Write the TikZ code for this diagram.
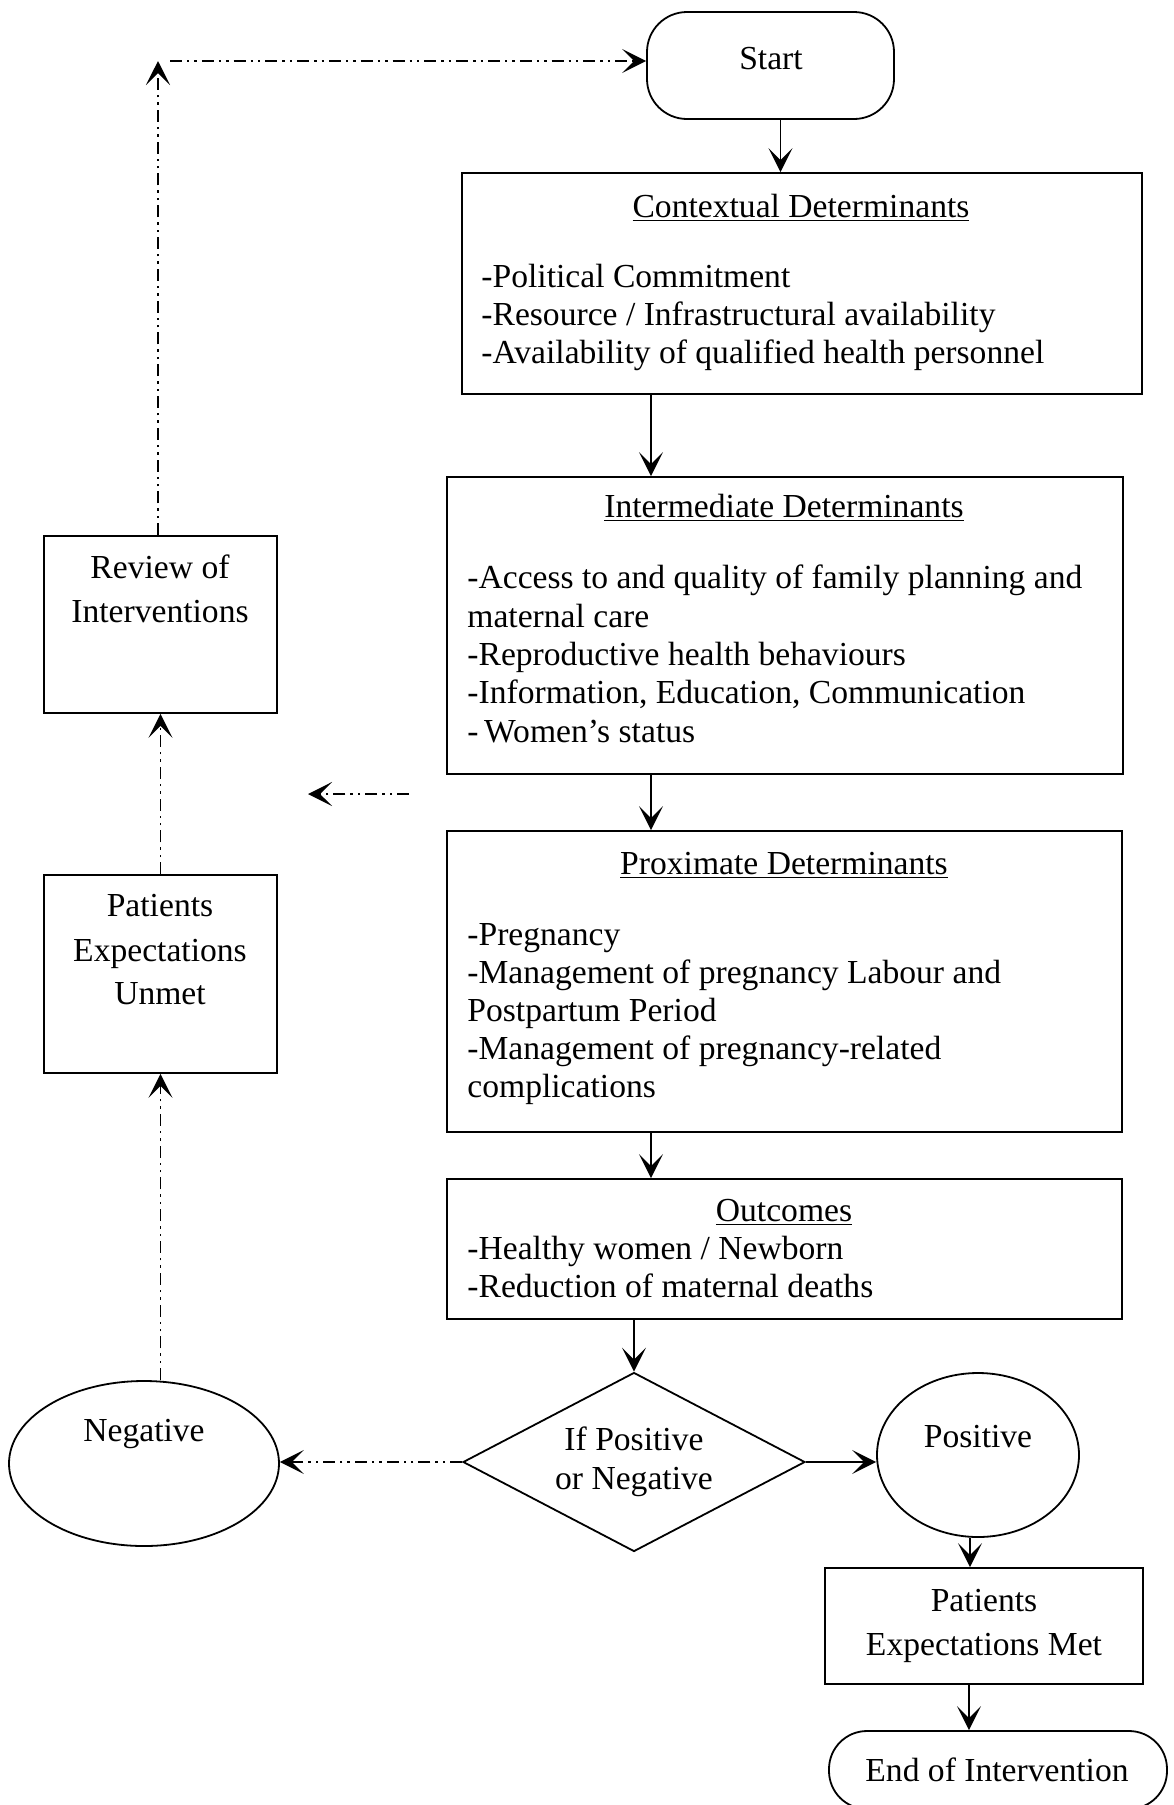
\documentclass[tikz,border=0pt]{standalone}
\usepackage{fontspec}
\setmainfont{Liberation Serif}
\usetikzlibrary{arrows.meta,shapes.geometric}

\begin{document}
\begin{tikzpicture}[
  x=0.5pt, y=-0.5pt,
  every node/.style={font=\fontsize{16.8}{19}\selectfont},
  boxst/.style={draw, line width=0.9pt, rectangle, inner sep=0pt},
  roundst/.style={draw, line width=0.9pt, rectangle, rounded corners=20pt, inner sep=0pt},
  ellst/.style={draw, line width=0.9pt, ellipse, inner sep=0pt},
  diast/.style={draw, line width=0.9pt, diamond, inner sep=0pt},
  txt/.style={inner sep=0pt, anchor=mid, yshift=-3.5pt},
  ltxt/.style={inner sep=0pt, anchor=mid west, yshift=-3.5pt},
  arr/.style={line width=0.9pt, -{Stealth[length=12pt,width=12pt,inset=6pt]}},
  dda/.style={dash pattern=on 6pt off 2.5pt on 1.2pt off 2.5pt on 1.2pt off 2.5pt}
]
\useasboundingbox (0,0) rectangle (1173,1805);

% ---- main column ----
\node[roundst, minimum width=123.5pt, minimum height=53.5pt] (start) at (770.5,65.5) {};
\node[txt] (startT) at (771,58) {Start};

\node[boxst, minimum width=340pt, minimum height=110.5pt] (ctx) at (802,283.5) {};
\node[txt] (ctxT) at (801,206) {\underline{Contextual Determinants}};
\node[ltxt] (ctx1) at (481,276) {-Political Commitment};
\node[ltxt] (ctx2) at (481,314) {-Resource / Infrastructural availability};
\node[ltxt] (ctx3) at (481,352) {-Availability of qualified health personnel};

\node[boxst, minimum width=338pt, minimum height=148.5pt] (int) at (785,625.5) {};
\node[txt] (intT) at (784,506) {\underline{Intermediate Determinants}};
\node[ltxt] (int1) at (467,577) {-Access to and quality of family planning and};
\node[ltxt] (int2) at (467,616) {maternal care};
\node[ltxt] (int3) at (467,654) {-Reproductive health behaviours};
\node[ltxt] (int4) at (467,692) {-Information, Education, Communication};
\node[ltxt] (int5) at (467,731) {-\,Women’s status};

\node[boxst, minimum width=337.5pt, minimum height=150.5pt] (prox) at (784.5,981.5) {};
\node[txt] (proxT) at (784,863) {\underline{Proximate Determinants}};
\node[ltxt] (prox1) at (467,934) {-Pregnancy};
\node[ltxt] (prox2) at (467,972) {-Management of pregnancy Labour and};
\node[ltxt] (prox3) at (467,1010) {Postpartum Period};
\node[ltxt] (prox4) at (467,1048) {-Management of pregnancy-related};
\node[ltxt] (prox5) at (467,1086) {complications};

\node[boxst, minimum width=337.5pt, minimum height=70pt] (out) at (784.5,1249) {};
\node[txt] (outT) at (784,1210) {\underline{Outcomes}};
\node[ltxt] (out1) at (467,1248) {-Healthy women / Newborn};
\node[ltxt] (out2) at (467,1286) {-Reduction of maternal deaths};

\node[diast, minimum width=171pt, minimum height=89.5pt] (dia) at (634,1462) {};
\node[txt] (dia1) at (634,1439) {If Positive};
\node[txt] (dia2) at (634,1478) {or Negative};

\node[ellst, minimum width=101pt, minimum height=82pt] (pos) at (978,1455) {};
\node[txt] (posT) at (978,1436) {Positive};

\node[boxst, minimum width=159pt, minimum height=58pt] (met) at (984,1626) {};
\node[txt] (met1) at (984,1600) {Patients};
\node[txt] (met2) at (984,1644) {Expectations Met};

\node[roundst, rounded corners=19pt, minimum width=169pt, minimum height=39pt] (end) at (998,1770) {};
\node[txt] (endT) at (997,1770) {End of Intervention};

% ---- feedback column ----
\node[ellst, minimum width=135pt, minimum height=82.5pt] (neg) at (144,1463.5) {};
\node[txt] (negT) at (144,1430) {Negative};

\node[boxst, minimum width=116.5pt, minimum height=99pt] (unmet) at (160.5,974) {};
\node[txt] (unmet1) at (160,905) {Patients};
\node[txt] (unmet2) at (160,950) {Expectations};
\node[txt] (unmet3) at (160,993) {Unmet};

\node[boxst, minimum width=116.5pt, minimum height=88.5pt] (review) at (160.5,624.5) {};
\node[txt] (review1) at (160,567) {Review of};
\node[txt] (review2) at (160,611) {Interventions};

\coordinate (topL) at (158,61);
\coordinate (topR) at (170,61);
\coordinate (fa) at (409,794);
\coordinate (fb) at (308,794);

% ---- solid connectors ----
\draw[arr] ([xshift=5pt]start.south) -- ([xshift=5pt]start.south |- ctx.north);
\draw[arr] ([xshift=-75.5pt]ctx.south) -- ([xshift=-75.5pt]ctx.south |- int.north);
\draw[arr] ([xshift=-67pt]int.south) -- ([xshift=-67pt]int.south |- prox.north);
\draw[arr] ([xshift=-66.75pt]prox.south) -- ([xshift=-66.75pt]prox.south |- out.north);
\draw[arr] (dia.north |- out.south) -- (dia.north);
\draw[arr] (dia.east) -- (dia.east -| pos.west);
\draw[arr] ([xshift=-4pt]pos.south) -- ([xshift=-4pt]pos.south |- met.north);
\draw[arr] ([xshift=-7.5pt]met.south) -- ([xshift=-7.5pt]met.south |- end.north);

% ---- dashed feedback connectors ----
\draw[arr, dda] (dia.west) -- (dia.west -| neg.east);
\draw[arr, dda] (unmet.south |- neg.north) -- (unmet.south);
\draw[arr, dda] (unmet.north) -- (review.south);
\draw[arr, dda] (review.north -| topL) -- (topL);
\draw[arr, dda] (topR) -- (topR -| start.west);
\draw[arr, dda] (fa) -- (fb);
\end{tikzpicture}
\end{document}
